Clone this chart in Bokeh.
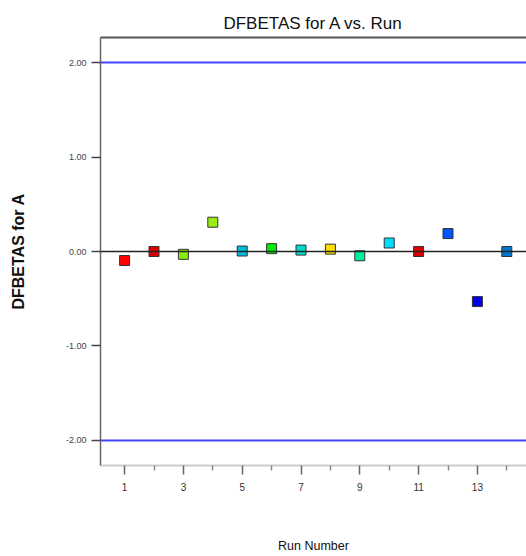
from bokeh.plotting import figure
from bokeh.models import FixedTicker, Span, LinearAxis, Range1d, ColumnDataSource
from bokeh.embed import file_html
from bokeh.resources import INLINE

runs = [1, 2, 3, 4, 5, 6, 7, 8, 9, 10, 11, 12, 13, 14]
dfbetas = [-0.095, 0.0, -0.03, 0.31, 0.005, 0.03, 0.015, 0.025, -0.045, 0.09, 0.0, 0.19, -0.53, 0.0]
colors = ["#ff0000", "#dd0000", "#88ee00", "#99ee11", "#00bbdd", "#00ee00", "#00ddcc",
          "#ffdd00", "#00ee99", "#00ddff", "#dd0000", "#0055ff", "#0000ee", "#0077cc"]
limit_lines = [2.0, -2.0]
y_ticks = [-2, -1, 0, 1, 2]
y_tick_labels = ["-2.00", "-1.00", "0.00", "1.00", "2.00"]
x_major = [1, 3, 5, 7, 9, 11, 13]
x_minor = [2, 4, 6, 8, 10, 12, 14]

NARROW = "Liberation Sans Narrow, Arial Narrow, Liberation Sans"

p = figure(width=526, height=556, output_backend="svg", toolbar_location=None,
           x_range=Range1d(0.18, 14.67), y_range=Range1d(-2.265, 2.265),
           min_border_left=100, min_border_right=0, min_border_top=37, min_border_bottom=91,
           title="DFBETAS for A vs. Run")
p.outline_line_color = None
p.grid.visible = False
p.background_fill_color = "white"
p.border_fill_color = "white"

p.title.align = "center"
p.title.text_font = NARROW
p.title.text_font_size = "17px"
p.title.text_font_style = "normal"
p.title.text_color = "#111111"

# x axis
xa = p.xaxis[0]
xa.ticker = FixedTicker(ticks=x_major, minor_ticks=x_minor)
xa.axis_line_color = "#cccccc"
xa.axis_line_width = 2
xa.major_tick_in = 0
xa.major_tick_out = 9
xa.minor_tick_in = 0
xa.minor_tick_out = 5
xa.major_tick_line_color = "#666666"
xa.minor_tick_line_color = "#888888"
xa.major_tick_line_width = 1.5
xa.minor_tick_line_width = 1.5
xa.major_label_text_font = NARROW
xa.major_label_text_font_size = "10px"
xa.major_label_text_color = "#333333"
xa.major_label_standoff = 8
xa.axis_label = "Run Number"
xa.axis_label_text_font = NARROW
xa.axis_label_text_font_size = "12.5px"
xa.axis_label_text_font_style = "normal"
xa.axis_label_text_color = "#111111"
xa.axis_label_standoff = 45

# y axis
ya = p.yaxis[0]
ya.ticker = FixedTicker(ticks=y_ticks, minor_ticks=[])
ya.major_label_overrides = {t: l for t, l in zip(y_ticks, y_tick_labels)}
ya.axis_line_color = "#666666"
ya.axis_line_width = 1.5
ya.major_tick_in = 0
ya.major_tick_out = 9
ya.major_tick_line_color = "#444444"
ya.major_tick_line_width = 1.5
ya.minor_tick_line_color = None
ya.major_label_text_font = NARROW
ya.major_label_text_font_size = "9px"
ya.major_label_text_color = "#444444"
ya.major_label_standoff = 5
ya.axis_label = "DFBETAS for A"
ya.axis_label_text_font = "Liberation Sans"
ya.axis_label_text_font_size = "16px"
ya.axis_label_text_font_style = "bold"
ya.axis_label_text_color = "#111111"
ya.axis_label_standoff = 36

# top border
top = LinearAxis(major_tick_line_color=None, minor_tick_line_color=None,
                 major_label_text_font_size="0px", axis_line_color="#555555",
                 axis_line_width=2)
top.ticker = FixedTicker(ticks=[])
p.add_layout(top, "above")

for yv in limit_lines:
    p.add_layout(Span(location=yv, dimension="width", line_color="#4444ff", line_width=2))
p.add_layout(Span(location=0, dimension="width", line_color="#222222", line_width=1.5))

src = ColumnDataSource(dict(x=runs, y=dfbetas, c=colors))
p.scatter("x", "y", source=src, marker="square", size=10, fill_color="c",
          line_color="#333333", line_width=1)

open("out.html", "w").write(file_html(p, INLINE))
